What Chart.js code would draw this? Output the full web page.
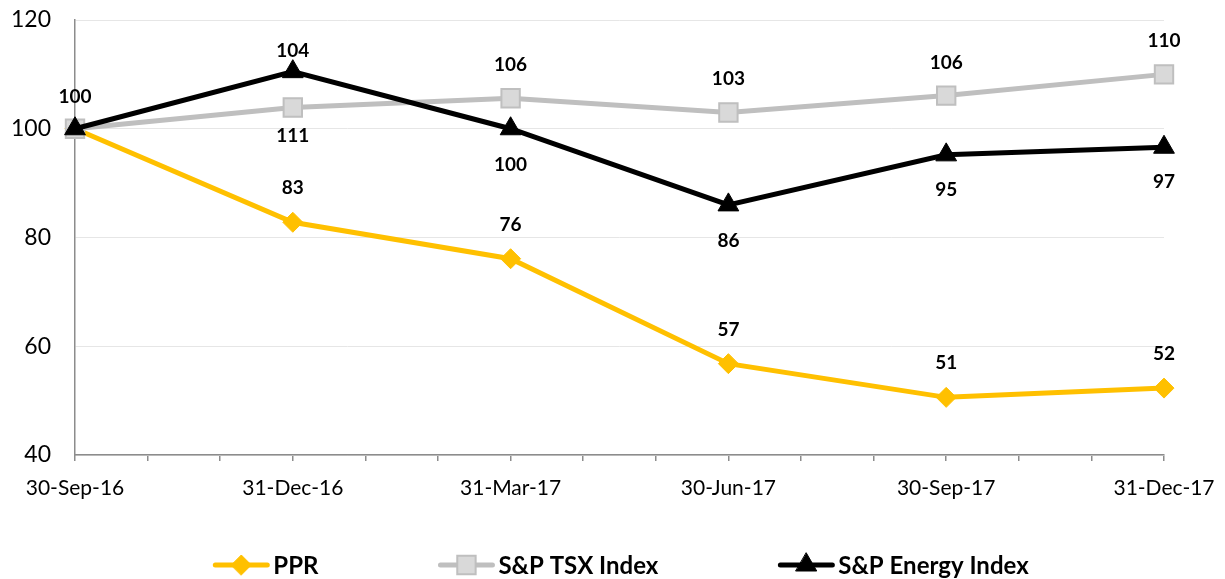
<!DOCTYPE html>
<html>
<head>
<meta charset="utf-8">
<script src="https://cdn.jsdelivr.net/npm/chart.js@4/dist/chart.umd.min.js"></script>
<style>
  html, body { margin: 0; padding: 0; background: #fff; }
</style>
</head>
<body>
<canvas id="chart" width="1225" height="579"></canvas>
<script>
// quarter-end dates and their month position on the axis
const quarters = ['30-Sep-16', '31-Dec-16', '31-Mar-17', '30-Jun-17', '30-Sep-17', '31-Dec-17'];
const monthIndex = [0, 3, 6, 9, 12, 15];

// indexed values (30-Sep-16 = 100)
const pprValues = [100, 82.8, 76.1, 56.8, 50.6, 52.3];
const tsxValues = [100, 103.9, 105.6, 103.0, 106.1, 110.0];
const energyValues = [100, 110.5, 100.0, 86.0, 95.2, 96.6];

// data labels as printed on the chart
const pprLabels = ['', '83', '76', '57', '51', '52'];
const tsxLabels = ['', '111', '106', '103', '106', '110'];
const energyLabels = ['100', '104', '100', '86', '95', '97'];

const yTicks = [40, 60, 80, 100, 120];

const FONT = 'Lato, "Open Sans", sans-serif';

function toPoints(values) {
    return values.map((v, i) => ({ x: monthIndex[i], y: v }));
}

// draws the value labels next to each point
const pointLabels = {
    id: 'pointLabels',
    afterDatasetsDraw(chart) {
        const ctx = chart.ctx;
        ctx.save();
        ctx.font = 'bold 19px ' + FONT;
        ctx.fillStyle = '#000';
        ctx.textAlign = 'center';
        ctx.textBaseline = 'middle';
        chart.data.datasets.forEach((ds, di) => {
            const meta = chart.getDatasetMeta(di);
            meta.data.forEach((pt, i) => {
                const txt = ds.pointText[i];
                if (!txt) return;
                ctx.fillText(txt, pt.x, pt.y + ds.pointTextOffset[i]);
            });
        });
        ctx.restore();
    }
};

// legend with line + marker swatches, like the original
const lineLegend = {
    id: 'lineLegend',
    afterDraw(chart) {
        const ctx = chart.ctx;
        ctx.save();
        ctx.font = 'bold 24px ' + FONT;
        ctx.textBaseline = 'middle';
        ctx.textAlign = 'left';
        const lineLen = 56, gapText = 4, gapItem = 120, y = 565;
        const items = chart.data.datasets.map(ds => ({
            ds,
            w: lineLen + gapText + ctx.measureText(ds.label).width
        }));
        const total = items.reduce((s, it) => s + it.w, 0) + gapItem * (items.length - 1);
        let x = 621 - total / 2;
        items.forEach(({ ds, w }) => {
            ctx.strokeStyle = ds.borderColor;
            ctx.lineWidth = ds.borderWidth;
            ctx.lineCap = 'round';
            ctx.beginPath();
            ctx.moveTo(x + 2, y);
            ctx.lineTo(x + lineLen - 2, y);
            ctx.stroke();
            ctx.fillStyle = ds.pointBackgroundColor;
            ctx.strokeStyle = ds.pointBorderColor;
            ctx.lineWidth = ds.pointBorderWidth;
            Chart.helpers.drawPoint(ctx, {
                pointStyle: ds.pointStyle,
                radius: ds.pointRadius,
                borderWidth: ds.pointBorderWidth,
                rotation: 0
            }, x + lineLen / 2, y);
            ctx.fillStyle = '#000';
            ctx.fillText(ds.label, x + lineLen + gapText, y + 1);
            x += w + gapItem;
        });
        ctx.restore();
    }
};

const ctx = document.getElementById('chart').getContext('2d');
new Chart(ctx, {
    type: 'line',
    data: {
        datasets: [
            {
                label: 'PPR',
                data: toPoints(pprValues),
                pointText: pprLabels,
                pointTextOffset: [-34, -34, -34, -34, -34, -34],
                borderColor: '#FFC000',
                borderWidth: 5,
                pointStyle: 'rectRot',
                pointRadius: 10,
                pointBackgroundColor: '#FFC000',
                pointBorderColor: '#FFC000',
                pointBorderWidth: 1,
                tension: 0,
                clip: false,
                order: 3
            },
            {
                label: 'S&P TSX Index',
                data: toPoints(tsxValues),
                pointText: tsxLabels,
                pointTextOffset: [-34, 28, -33, -34, -33, -34],
                borderColor: '#BFBFBF',
                borderWidth: 5,
                pointStyle: 'rect',
                pointRadius: 13,
                pointBackgroundColor: '#D9D9D9',
                pointBorderColor: '#BFBFBF',
                pointBorderWidth: 2,
                tension: 0,
                clip: false,
                order: 2
            },
            {
                label: 'S&P Energy Index',
                data: toPoints(energyValues),
                pointText: energyLabels,
                pointTextOffset: [-32, -21, 36, 36, 35, 35],
                borderColor: '#000000',
                borderWidth: 5,
                pointStyle: 'triangle',
                pointRadius: 12,
                pointBackgroundColor: '#000000',
                pointBorderColor: '#000000',
                pointBorderWidth: 1,
                tension: 0,
                clip: false,
                order: 1
            }
        ]
    },
    options: {
        responsive: false,
        animation: false,
        layout: { padding: { top: 20, right: 61, bottom: 0, left: 0 } },
        plugins: {
            legend: { display: false },
            tooltip: { enabled: false }
        },
        scales: {
            x: {
                type: 'linear',
                min: monthIndex[0],
                max: monthIndex[monthIndex.length - 1],
                afterFit(scale) {
                    scale.height = 124;
                    scale.paddingLeft = 0;
                    scale.paddingRight = 0;
                },
                afterBuildTicks(scale) {
                    const ticks = [];
                    for (let m = scale.min; m <= scale.max; m++) ticks.push({ value: m });
                    scale.ticks = ticks;
                },
                ticks: {
                    autoSkip: false,
                    maxRotation: 0,
                    padding: 15,
                    color: '#000',
                    font: { family: FONT, size: 21 },
                    callback(v) {
                        const k = monthIndex.indexOf(v);
                        return k >= 0 ? quarters[k] : '';
                    }
                },
                grid: {
                    drawOnChartArea: false,
                    drawTicks: true,
                    tickLength: 6,
                    color: '#8C8C8C',
                    lineWidth: 1.5
                },
                border: { color: '#8C8C8C', width: 1.5 }
            },
            y: {
                min: yTicks[0],
                max: yTicks[yTicks.length - 1],
                afterFit(scale) {
                    scale.width = 75;
                    scale.paddingTop = 0;
                    scale.paddingBottom = 0;
                },
                afterBuildTicks(scale) {
                    scale.ticks = yTicks.map(v => ({ value: v }));
                },
                ticks: {
                    padding: 24,
                    color: '#000',
                    font: { family: FONT, size: 23 }
                },
                grid: {
                    color: '#E6E6E6',
                    lineWidth: 1,
                    drawTicks: false
                },
                border: { color: '#8C8C8C', width: 1.5 }
            }
        }
    },
    plugins: [pointLabels, lineLegend]
});
</script>
</body>
</html>
